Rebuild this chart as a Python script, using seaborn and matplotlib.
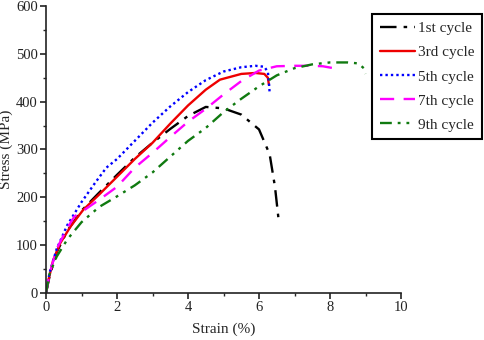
import matplotlib
matplotlib.use("Agg")
import matplotlib.pyplot as plt
import seaborn as sns
import numpy as np
from matplotlib.ticker import MultipleLocator

# ---- data ----
labels = ["1st cycle", "3rd cycle", "5th cycle", "7th cycle", "9th cycle"]

x1 = [0, 0.1, 0.3, 0.6, 1.0, 1.5, 2.0, 2.5, 3.0, 3.5, 4.0, 4.5, 5.0, 5.5, 6.0, 6.3, 6.45, 6.56]
y1 = [0, 35, 85, 130, 172, 210, 247, 283, 314, 343, 370, 389, 386, 373, 342, 290, 222, 148]

x3 = [0, 0.07, 0.2, 0.4, 0.7, 1.05, 1.5, 2.0, 2.5, 3.0, 3.5, 4.0, 4.5, 4.9, 5.5, 5.9, 6.15, 6.25, 6.28]
y3 = [0, 27, 68, 104, 140, 174, 206, 243, 280, 314, 354, 392, 425, 446, 458, 460, 458, 450, 435]

x5 = [0, 0.1, 0.3, 0.6, 1.0, 1.4, 1.7, 2.0, 2.5, 3.0, 3.5, 4.0, 4.5, 5.0, 5.5, 5.9, 6.15, 6.25, 6.28, 6.3]
y5 = [0, 42, 92, 142, 190, 232, 262, 280, 318, 356, 390, 420, 445, 463, 472, 475, 473, 462, 440, 418]

x7 = [0, 0.1, 0.3, 0.6, 0.8, 1.05, 1.5, 2.0, 2.5, 3.0, 3.5, 4.0, 4.5, 5.0, 5.5, 6.0, 6.5, 7.0, 7.5, 7.8, 8.1, 8.3]
y7 = [0, 40, 92, 136, 160, 172, 195, 222, 262, 293, 326, 358, 385, 415, 443, 465, 474, 475, 475, 474, 470, 466]

x9 = [0, 0.1, 0.3, 0.6, 1.0, 1.5, 2.0, 2.5, 3.0, 3.5, 4.0, 4.5, 5.0, 5.5, 6.0, 6.5, 7.0, 7.5, 8.0, 8.5, 8.8, 8.95, 9.0]
y9 = [0, 40, 76, 112, 148, 180, 202, 225, 252, 285, 318, 345, 378, 406, 432, 455, 470, 478, 482, 482, 480, 470, 458]

xs = [x1, x3, x5, x7, x9]
ys = [y1, y3, y5, y7, y9]

colors = ["#000000", "#ee0000", "#0000ff", "#ff00ff", "#107a10"]
styles = [(0, (7, 3, 1.5, 3)), "-", (0, (1, 1.3)), (0, (6, 4)), (0, (5, 2.5, 1.2, 2.5, 1.2, 2.5))]

sns.set_style("ticks")
plt.rcParams["font.family"] = ["Liberation Serif", "DejaVu Serif"]

fig = plt.figure(figsize=(4.84, 3.4), dpi=100)
ax = fig.add_axes([46 / 484, 47 / 340, (401 - 46) / 484, (293 - 6) / 340])

for x, y, lab, c, ls in zip(xs, ys, labels, colors, styles):
    sns.lineplot(x=x, y=y, ax=ax, color=c, linestyle=ls, linewidth=1.7,
                 sort=False, estimator=None, label=lab)

ax.set_xlim(0, 10)
ax.set_ylim(0, 600)
ax.xaxis.set_major_locator(MultipleLocator(2))
ax.xaxis.set_minor_locator(MultipleLocator(1))
ax.yaxis.set_major_locator(MultipleLocator(100))
ax.yaxis.set_minor_locator(MultipleLocator(50))
ax.tick_params(axis="both", which="major", direction="out", length=4, width=1.2,
               labelsize=10.5, colors="#222222", pad=2)
ax.tick_params(axis="both", which="minor", direction="out", length=2.5, width=1.0)
for s in ["left", "bottom"]:
    ax.spines[s].set_linewidth(1.2)
    ax.spines[s].set_color("#222222")
sns.despine(ax=ax)

ax.set_xlabel("Strain (%)", fontsize=11, labelpad=6)
ax.set_ylabel("Stress (MPa)", fontsize=11)
ax.yaxis.set_label_coords(-0.093, 0.5)

leg = ax.legend(loc="upper right", bbox_to_anchor=(482 / 484, 1 - 14 / 340),
                bbox_transform=fig.transFigure, fontsize=11, frameon=True,
                fancybox=False, edgecolor="black", handlelength=2.3,
                labelspacing=0.68, borderpad=0.5, handletextpad=0.2,
                borderaxespad=0)
leg.get_frame().set_linewidth(1.5)
leg.get_frame().set_alpha(1)

fig.savefig("out.png", dpi=100)
